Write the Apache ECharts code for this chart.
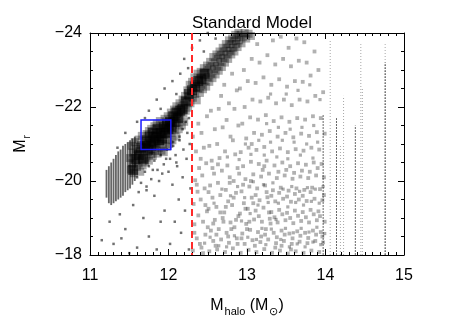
<!DOCTYPE html>
<html><head><meta charset="utf-8">
<script src="https://cdn.jsdelivr.net/npm/echarts@6/dist/echarts.min.js"></script>
<style>html,body{margin:0;padding:0;background:#fff}#c{width:450px;height:322px}</style>
</head><body><div id="c"></div>
<script>
const titleText = "Standard Model";
const xTicks = [11, 12, 13, 14, 15];
const yTicks = [-24, -22, -20, -18];
const cutMass = 12.3;
const box = [[11.65, -21.65], [12.03, -20.85]];

const bandPoints = [
[11.51,-20.62],[11.52,-20.31],[11.53,-20.95],[11.54,-20.48],[11.55,-20.77],[11.56,-20.21],[11.57,-21.05],[11.58,-20.55],[11.59,-20.86],[11.60,-20.38],[11.61,-20.69],[11.62,-21.12],[11.62,-20.47],[11.63,-20.81],[11.64,-20.25],[11.65,-20.97],[11.66,-20.6],[11.66,-21.22],[11.67,-20.42],[11.68,-20.88],[11.69,-20.71],[11.7,-21.08],[11.7,-20.5],
[11.71,-20.93],[11.72,-21.27],[11.72,-20.63],[11.73,-21.02],[11.74,-20.79],[11.75,-21.35],[11.75,-20.55],[11.76,-21.12],[11.77,-20.86],[11.78,-21.41],[11.78,-20.72],[11.79,-21.05],[11.8,-21.22],[11.8,-20.68],[11.81,-20.95],[11.82,-21.48],[11.82,-21.13],[11.83,-20.81],[11.84,-21.3],[11.85,-20.99],[11.85,-21.55],[11.86,-20.74],[11.87,-21.19],[11.88,-21.4],[11.88,-20.9],[11.89,-21.62],[11.9,-21.08],[11.91,-20.82],[11.91,-21.33],[11.92,-21.5],[11.93,-21.0],[11.94,-21.25],[11.94,-20.78],[11.95,-21.68],[11.95,-21.42],
[11.96,-21.12],[11.97,-21.55],[11.98,-20.93],[11.98,-21.36],[11.99,-21.75],[12.0,-21.22],[12.01,-21.6],[12.01,-21.0],[12.02,-21.46],[12.03,-21.85],[12.04,-21.3],[12.05,-21.68],[12.05,-21.1],[12.06,-21.52],[12.07,-21.93],[12.08,-21.38],[12.09,-21.75],[12.1,-21.2],[12.1,-22.02],[12.11,-21.58],[12.12,-21.87],[12.13,-21.4],[12.14,-22.1],[12.15,-21.7],[12.16,-21.95],[12.17,-21.5],[12.18,-22.2],[12.19,-21.82],[12.2,-22.05],[12.2,-21.6],
[12.21,-22.3],[12.22,-21.9],[12.23,-22.15],[12.24,-22.45],[12.25,-21.98],[12.26,-22.28],[12.27,-22.6],[12.28,-22.1],[12.29,-22.42],[12.3,-22.68],[12.31,-22.25],[12.32,-22.52],[12.33,-22.8],[12.34,-22.35],[12.35,-22.62],[12.36,-22.18],[12.37,-22.9],[12.38,-22.5],[12.39,-22.72],[12.4,-22.38],[12.41,-22.95],[12.42,-22.6],[12.43,-22.82],[12.44,-22.48],[12.45,-23.05],[12.46,-22.7],[12.47,-22.92],[12.48,-22.55],[12.49,-23.12],[12.5,-22.8],
[12.51,-23.0],[12.52,-22.68],[12.53,-23.22],[12.54,-22.9],[12.55,-23.1],[12.56,-22.78],[12.57,-23.35],[12.58,-23.02],[12.59,-23.2],[12.6,-22.88],[12.61,-23.42],[12.62,-23.1],[12.63,-23.3],[12.64,-22.98],[12.65,-23.5],[12.66,-23.22],[12.67,-23.4],[12.68,-23.08],[12.69,-23.6],[12.7,-23.32],[12.71,-23.5],[12.72,-23.2],[12.73,-23.7],[12.74,-23.42],[12.75,-23.6],[12.76,-23.3],[12.77,-23.8],[12.78,-23.52],[12.79,-23.7],[12.8,-23.42],
[12.81,-23.85],[12.82,-23.6],[12.83,-23.78],[12.84,-23.5],[12.85,-23.95],[12.86,-23.7],[12.87,-23.88],[12.88,-23.62],[12.89,-24.0],[12.9,-23.8],[12.92,-23.95],[12.93,-23.72],[12.95,-23.9],[12.97,-24.0],[12.99,-23.85],[13.02,-23.98],[13.05,-23.92]
];

const corePoints = [
[11.55,-20.3],[11.58,-20.6],[11.62,-20.7],[11.65,-20.9],[11.68,-20.6],[11.7,-20.95],[11.72,-21.1],[11.74,-20.85],[11.76,-21.2],[11.78,-20.95],[11.8,-21.3],[11.82,-21.05],[11.84,-21.2],[11.86,-21.4],[11.88,-21.1],[11.9,-21.3],[11.92,-21.15],[11.94,-21.45],[11.96,-21.3],[11.98,-21.55],[12.0,-21.4],[12.02,-21.6],[12.04,-21.45],[12.06,-21.75],[12.08,-21.6],[12.1,-21.85],[12.12,-21.7],[12.15,-21.9],[12.18,-21.95],[12.22,-22.15],[12.26,-22.35],[12.3,-22.45],[12.34,-22.55],[12.38,-22.7],[12.42,-22.75],[12.46,-22.9]
];

const haloPoints = [
[11.6,-20.1],[11.65,-19.95],[11.7,-20.25],[11.75,-20.4],[11.78,-20.05],[11.82,-20.55],[11.86,-20.3],[11.9,-20.7],[11.94,-20.45],[11.98,-20.85],[12.02,-20.6],[12.06,-20.95],[12.1,-20.5],[12.14,-21.1],[12.18,-21.4],[12.22,-21.6],[12.26,-21.7],[11.72,-19.75],[11.88,-20.0],[12.0,-20.25],
[11.6,-21.6],[11.75,-21.9],[11.85,-22.2],[11.95,-22.5],[12.05,-22.7],[12.15,-22.9],[12.2,-23.3],[12.3,-23.6],[12.4,-23.8],[12.5,-24.0],[11.9,-21.95],[12.1,-22.35],[12.25,-23.05],[12.45,-23.5],[11.7,-21.7],[11.45,-21.3],[11.35,-20.9],[12.6,-23.85],
[11.3,-18.3],[11.45,-18.7],[11.6,-18.2],[11.75,-18.5],[11.9,-18.9],[11.38,-19.1],[11.55,-19.35],[11.68,-19.0],[11.82,-19.6],[11.95,-19.2],[11.5,-18.05],[11.85,-18.15],[11.62,-19.7],[11.72,-19.85],[11.92,-20.2],[11.8,-20.3],[11.97,-20.6],[11.25,-18.9],[11.15,-18.4],[11.4,-18.45],
[12.02,-18.3],[12.08,-18.9],[12.13,-19.5],[12.18,-20.1],[12.23,-20.6],[12.27,-21.0],[12.05,-19.9],[12.11,-20.4],[12.16,-18.6],[12.21,-19.2],[12.26,-18.15],[12.28,-19.8],[12.24,-21.3],[12.19,-20.85],[12.14,-21.2],[12.09,-20.7],[12.06,-21.05]
];

const cloudPoints = [
[12.31,-18.12],[12.36,-18.45],[12.33,-18.83],[12.38,-19.07],[12.32,-19.38],[12.37,-19.71],[12.34,-20.02],[12.39,-20.35],[12.35,-20.8],[12.31,-21.2],[12.38,-21.55],[12.33,-18.6],[12.36,-19.9],[12.4,-18.3],
[12.42,-18.2],[12.47,-18.55],[12.44,-18.9],[12.49,-19.18],[12.41,-19.5],[12.46,-19.8],[12.43,-20.15],[12.48,-20.48],[12.45,-20.9],[12.42,-21.3],[12.49,-21.75],[12.44,-18.05],[12.47,-19.35],[12.41,-20.6],[12.5,-18.75],
[12.52,-18.1],[12.57,-18.38],[12.54,-18.66],[12.59,-18.95],[12.51,-19.25],[12.56,-19.55],[12.53,-19.88],[12.58,-20.2],[12.55,-20.55],[12.52,-20.95],[12.59,-21.4],[12.54,-21.9],[12.57,-18.85],[12.51,-19.7],[12.56,-20.35],[12.6,-18.25],
[12.62,-18.15],[12.67,-18.42],[12.64,-18.7],[12.69,-19.0],[12.61,-19.3],[12.66,-19.62],[12.63,-19.95],[12.68,-20.28],[12.65,-20.62],[12.62,-21.0],[12.69,-21.45],[12.64,-21.95],[12.67,-22.3],[12.61,-18.55],[12.66,-19.15],[12.63,-20.45],[12.7,-18.9],
[12.72,-18.08],[12.77,-18.33],[12.74,-18.6],[12.79,-18.88],[12.71,-19.15],[12.76,-19.45],[12.73,-19.76],[12.78,-20.1],[12.75,-20.42],[12.72,-20.8],[12.79,-21.2],[12.74,-21.65],[12.77,-22.1],[12.71,-22.6],[12.76,-18.5],[12.73,-19.3],[12.78,-19.95],[12.8,-18.7],
[12.82,-18.18],[12.87,-18.45],[12.84,-18.75],[12.89,-19.05],[12.81,-19.35],[12.86,-19.68],[12.83,-20.0],[12.88,-20.35],[12.85,-20.72],[12.82,-21.1],[12.89,-21.5],[12.84,-21.95],[12.87,-22.45],[12.81,-22.9],[12.86,-18.95],[12.83,-19.55],[12.88,-18.3],[12.9,-20.2],
[12.92,-18.06],[12.97,-18.3],[12.94,-18.58],[12.99,-18.84],[12.91,-19.12],[12.96,-19.4],[12.93,-19.72],[12.98,-20.05],[12.95,-20.4],[12.92,-20.78],[12.99,-21.15],[12.94,-21.55],[12.97,-22.0],[12.91,-22.5],[12.96,-23.0],[12.93,-18.45],[12.98,-19.25],[12.95,-19.9],[13.0,-18.7],
[13.02,-18.14],[13.07,-18.4],[13.04,-18.68],[13.09,-18.96],[13.01,-19.25],[13.06,-19.55],[13.03,-19.85],[13.08,-20.18],[13.05,-20.52],[13.02,-20.9],[13.09,-21.3],[13.04,-21.72],[13.07,-22.2],[13.01,-22.7],[13.06,-23.3],[13.03,-18.9],[13.08,-19.4],[13.05,-20.0],[13.1,-18.25],[13.06,-21.0],
[13.12,-18.08],[13.17,-18.35],[13.14,-18.62],[13.19,-18.9],[13.11,-19.2],[13.16,-19.48],[13.13,-19.8],[13.18,-20.12],[13.15,-20.46],[13.12,-20.84],[13.19,-21.25],[13.14,-21.66],[13.17,-22.15],[13.11,-22.65],[13.16,-23.2],[13.13,-23.7],[13.18,-18.5],[13.15,-19.05],[13.11,-19.62],[13.2,-20.3],
[13.22,-18.16],[13.27,-18.42],[13.24,-18.7],[13.29,-18.98],[13.21,-19.28],[13.26,-19.56],[13.23,-19.88],[13.28,-20.2],[13.25,-20.55],[13.22,-20.92],[13.29,-21.35],[13.24,-21.78],[13.27,-22.25],[13.21,-22.8],[13.26,-23.4],[13.23,-18.55],[13.28,-19.15],[13.25,-19.7],[13.3,-18.85],[13.22,-20.4],
[13.32,-18.06],[13.37,-18.32],[13.34,-18.6],[13.39,-18.88],[13.31,-19.16],[13.36,-19.45],[13.33,-19.75],[13.38,-20.08],[13.35,-20.42],[13.32,-20.8],[13.39,-21.2],[13.34,-21.62],[13.37,-22.1],[13.31,-22.6],[13.36,-23.15],[13.33,-23.8],[13.38,-18.48],[13.35,-19.02],[13.31,-19.6],[13.4,-20.25],[13.36,-18.2],
[13.42,-18.12],[13.47,-18.38],[13.44,-18.66],[13.49,-18.94],[13.41,-19.22],[13.46,-19.52],[13.43,-19.82],[13.48,-20.15],[13.45,-20.5],[13.42,-20.88],[13.49,-21.3],[13.44,-21.72],[13.47,-22.2],[13.41,-22.75],[13.46,-23.3],[13.43,-23.9],[13.48,-18.55],[13.45,-19.1],[13.41,-19.68],[13.5,-20.3],[13.44,-18.25],
[13.52,-18.04],[13.57,-18.3],[13.54,-18.58],[13.59,-18.86],[13.51,-19.14],[13.56,-19.44],[13.53,-19.74],[13.58,-20.06],[13.55,-20.4],[13.52,-20.78],[13.59,-21.18],[13.54,-21.6],[13.57,-22.05],[13.51,-22.55],[13.56,-23.1],[13.53,-23.6],[13.58,-18.45],[13.55,-19.0],[13.51,-19.58],[13.6,-20.22],[13.56,-18.15],
[13.62,-18.1],[13.67,-18.36],[13.64,-18.64],[13.69,-18.92],[13.61,-19.2],[13.66,-19.5],[13.63,-19.8],[13.68,-20.12],[13.65,-20.48],[13.62,-20.86],[13.69,-21.28],[13.64,-21.7],[13.67,-22.2],[13.61,-22.7],[13.66,-23.25],[13.63,-23.85],[13.68,-18.52],[13.65,-19.06],[13.61,-19.65],[13.7,-20.28],
[13.72,-18.06],[13.77,-18.32],[13.74,-18.6],[13.79,-18.88],[13.71,-19.16],[13.76,-19.46],[13.73,-19.76],[13.78,-20.08],[13.75,-20.44],[13.72,-20.82],[13.79,-21.22],[13.74,-21.66],[13.77,-22.15],[13.71,-22.68],[13.76,-23.2],[13.73,-23.75],[13.78,-18.46],[13.75,-19.02],[13.71,-19.6],[13.8,-20.25],
[13.82,-18.12],[13.87,-18.38],[13.84,-18.66],[13.89,-18.94],[13.81,-19.22],[13.86,-19.52],[13.83,-19.82],[13.88,-20.15],[13.85,-20.5],[13.82,-20.9],[13.89,-21.32],[13.84,-21.75],[13.87,-22.3],[13.81,-22.85],[13.86,-23.5],[13.88,-18.55],[13.85,-19.1],[13.81,-19.7],[13.9,-20.35],
[13.92,-18.08],[13.97,-18.34],[13.94,-18.62],[13.99,-18.9],[13.91,-19.18],[13.96,-19.48],[13.93,-19.78],[13.98,-20.1],[13.95,-20.46],[13.92,-20.85],[13.99,-21.28],[13.94,-21.7],[13.97,-22.4],[13.91,-23.0],[13.96,-18.5],[13.93,-19.05],[13.98,-19.62]
];

const cloudExtra = [
[12.46,-18.32],[12.53,-18.48],[12.58,-19.4],[12.64,-18.25],[12.68,-19.78],[12.74,-18.22],[12.79,-19.6],[12.84,-18.52],[12.88,-19.85],[12.93,-18.92],[12.97,-19.55],[13.01,-18.48],[13.04,-19.12],[13.08,-19.98],[13.12,-18.42],[13.14,-19.35],[13.19,-18.72],[13.21,-19.9],[13.24,-18.28],[13.27,-19.42],[13.31,-18.7],[13.33,-19.95],[13.37,-18.96],[13.4,-19.4],[13.43,-18.42],[13.46,-19.78],[13.49,-18.72],[13.52,-19.3],[13.54,-18.22],[13.57,-19.85],[13.59,-18.6],[13.62,-19.42],[13.64,-18.3],[13.67,-19.72],[13.69,-18.72],[13.72,-19.35],[13.74,-18.22],[13.77,-19.82],[13.79,-18.62],[13.82,-19.45],[13.84,-18.35],[13.87,-19.78],[13.89,-18.75],[13.92,-19.4],[13.94,-18.28],[13.97,-19.85],[13.99,-18.58],
[13.52,-20.6],[13.68,-20.7],[13.84,-20.62],[13.38,-20.65],[13.22,-20.7],[13.05,-20.72],[12.9,-20.58],[12.75,-20.65],[13.6,-21.05],[13.76,-21.0],[13.45,-21.1],[13.3,-21.05],[13.15,-21.1],[12.98,-21.0],[13.9,-21.05],[13.55,-21.4],[13.7,-21.45],[13.85,-21.5],[13.4,-21.45],[13.25,-21.55],[13.65,-22.45],[13.8,-22.6],[13.5,-22.35],[13.3,-22.35],[13.93,-22.2]
];

// low-mass striations: [mass, Mr bottom, Mr top]
const lowStripes = [
[11.21,-19.55,-20.3],[11.24,-19.4,-20.4],[11.27,-19.35,-20.5],[11.30,-19.4,-20.6],[11.33,-19.45,-20.7],[11.36,-19.5,-20.8],[11.39,-19.55,-20.85],[11.42,-19.6,-20.95],[11.45,-19.7,-21.0],[11.48,-19.75,-21.05],[11.51,-19.8,-21.1],[11.54,-19.9,-21.15],[11.57,-20.0,-21.2]
];
// high-mass vertical streaks (cluster halos): [mass, Mr bottom, Mr top]
const streaksDark = [[13.97,-18,-21.8],[14.14,-18,-21.7],[14.38,-18,-21.5],[14.76,-18,-23.2]];
const streaksLight = [[14.06,-18,-23.8],[14.19,-18,-21.0],[14.23,-18,-22.3],[14.45,-18,-23.7],[14.47,-18,-22.5],[14.76,-18,-23.7]];

const FONT = 'Liberation Sans';
const minus = v => String(v).replace('-', '\u2212');

function segRenderer(stroke, width, dash) {
  return function (params, api) {
    const p1 = api.coord([api.value(0), api.value(1)]);
    const p2 = api.coord([api.value(0), api.value(2)]);
    return { type: 'line', shape: { x1: p1[0], y1: p1[1], x2: p2[0], y2: p2[1] },
      style: { stroke: stroke, lineWidth: width, lineDash: dash } };
  };
}

const axisCommon = {
  min: 11, max: 15, interval: 1,
  axisLine: { show: true, onZero: false, lineStyle: { color: '#000', width: 1 } },
  axisTick: { show: true, inside: true, length: 6, lineStyle: { color: '#000' } },
  minorTick: { show: true, splitNumber: 10, length: 3, lineStyle: { color: '#000' } },
  splitLine: { show: false }, minorSplitLine: { show: false }
};
const yCommon = {
  type: 'value', inverse: true, min: -24, max: -18, interval: 2,
  axisLine: { show: true, onZero: false, lineStyle: { color: '#000', width: 1 } },
  axisTick: { show: true, inside: true, length: 6, lineStyle: { color: '#000' } },
  minorTick: { show: true, splitNumber: 4, length: 3, lineStyle: { color: '#000' } },
  splitLine: { show: false }, minorSplitLine: { show: false }
};

const chart = echarts.init(document.getElementById('c'), null, { renderer: 'canvas' });
chart.setOption({
  animation: false,
  backgroundColor: '#fff',
  title: { text: titleText, left: 247, textAlign: 'center', top: 10,
    textStyle: { fontFamily: FONT, fontSize: 17, fontWeight: 'normal', color: '#000' } },
  grid: { left: 90, right: 46, top: 33, bottom: 65 },
  xAxis: [
    Object.assign({ type: 'value', position: 'bottom',
      axisLabel: { margin: 13, fontFamily: FONT, fontSize: 16, color: '#000', formatter: v => xTicks.includes(v) ? String(v) : '' },
      name: '{m|M}{s|halo}{m| (M}{s|\u2299}{m|)}', nameLocation: 'middle', nameGap: 40,
      nameTextStyle: { rich: {
        m: { fontFamily: FONT, fontSize: 16, color: '#000', lineHeight: 22, verticalAlign: 'middle' },
        s: { fontFamily: FONT, fontSize: 11, color: '#000', lineHeight: 22, verticalAlign: 'bottom', padding: [8, 0, 0, 1] } } }
    }, axisCommon),
    Object.assign({ type: 'value', position: 'top', axisLabel: { show: false } }, axisCommon)
  ],
  yAxis: [
    Object.assign({ position: 'left',
      axisLabel: { margin: 8, fontFamily: FONT, fontSize: 16, color: '#000', formatter: v => yTicks.includes(v) ? minus(v) : '' },
      name: '{m|M}{s|r}', nameLocation: 'middle', nameGap: 58, nameRotate: 90,
      nameTextStyle: { rich: {
        m: { fontFamily: FONT, fontSize: 16, color: '#000', lineHeight: 22, verticalAlign: 'middle' },
        s: { fontFamily: FONT, fontSize: 10, color: '#000', lineHeight: 22, verticalAlign: 'bottom', padding: [8, 0, 0, 1] } } }
    }, yCommon),
    Object.assign({ position: 'right', axisLabel: { show: false } }, yCommon)
  ],
  series: [
    { type: 'custom', xAxisIndex: 0, yAxisIndex: 0, clip: true, silent: true,
      renderItem: segRenderer('#666', 1.8, null), data: lowStripes, z: 2 },
    { type: 'custom', xAxisIndex: 0, yAxisIndex: 0, clip: true, silent: true,
      renderItem: segRenderer('rgba(0,0,0,0.35)', 1, [1, 2]), data: streaksLight, z: 2 },
    { type: 'custom', xAxisIndex: 0, yAxisIndex: 0, clip: true, silent: true,
      renderItem: segRenderer('rgba(0,0,0,0.6)', 1, [2, 1]), data: streaksDark, z: 2 },
    { type: 'scatter', xAxisIndex: 0, yAxisIndex: 0, data: cloudPoints, symbol: 'rect', symbolSize: 3.8,
      itemStyle: { color: 'rgba(0,0,0,0.38)' }, silent: true, z: 3 },
    { type: 'scatter', xAxisIndex: 0, yAxisIndex: 0, data: cloudExtra, symbol: 'rect', symbolSize: 3.2,
      itemStyle: { color: 'rgba(0,0,0,0.4)' }, silent: true, z: 3 },
    { type: 'scatter', xAxisIndex: 0, yAxisIndex: 0, data: haloPoints, symbol: 'rect', symbolSize: 2.5,
      itemStyle: { color: 'rgba(0,0,0,0.7)' }, silent: true, z: 3 },
    { type: 'scatter', xAxisIndex: 0, yAxisIndex: 0, data: bandPoints, symbol: 'rect', symbolSize: 8,
      itemStyle: { color: 'rgba(0,0,0,0.42)' }, silent: true, z: 4 },
    { type: 'scatter', xAxisIndex: 0, yAxisIndex: 0, data: corePoints, symbol: 'rect', symbolSize: 10,
      itemStyle: { color: 'rgba(0,0,0,0.75)' }, silent: true, z: 4,
      markLine: { silent: true, symbol: 'none', label: { show: false }, z: 10,
        lineStyle: { color: '#ff2a2a', width: 2, type: [7, 4] },
        data: [{ xAxis: cutMass }] },
      markArea: { silent: true, z: 10,
        itemStyle: { color: 'rgba(0,0,0,0)', borderColor: '#1a1aff', borderWidth: 1.5 },
        data: [[{ coord: box[0] }, { coord: box[1] }]] }
    }
  ]
});
</script></body></html>
